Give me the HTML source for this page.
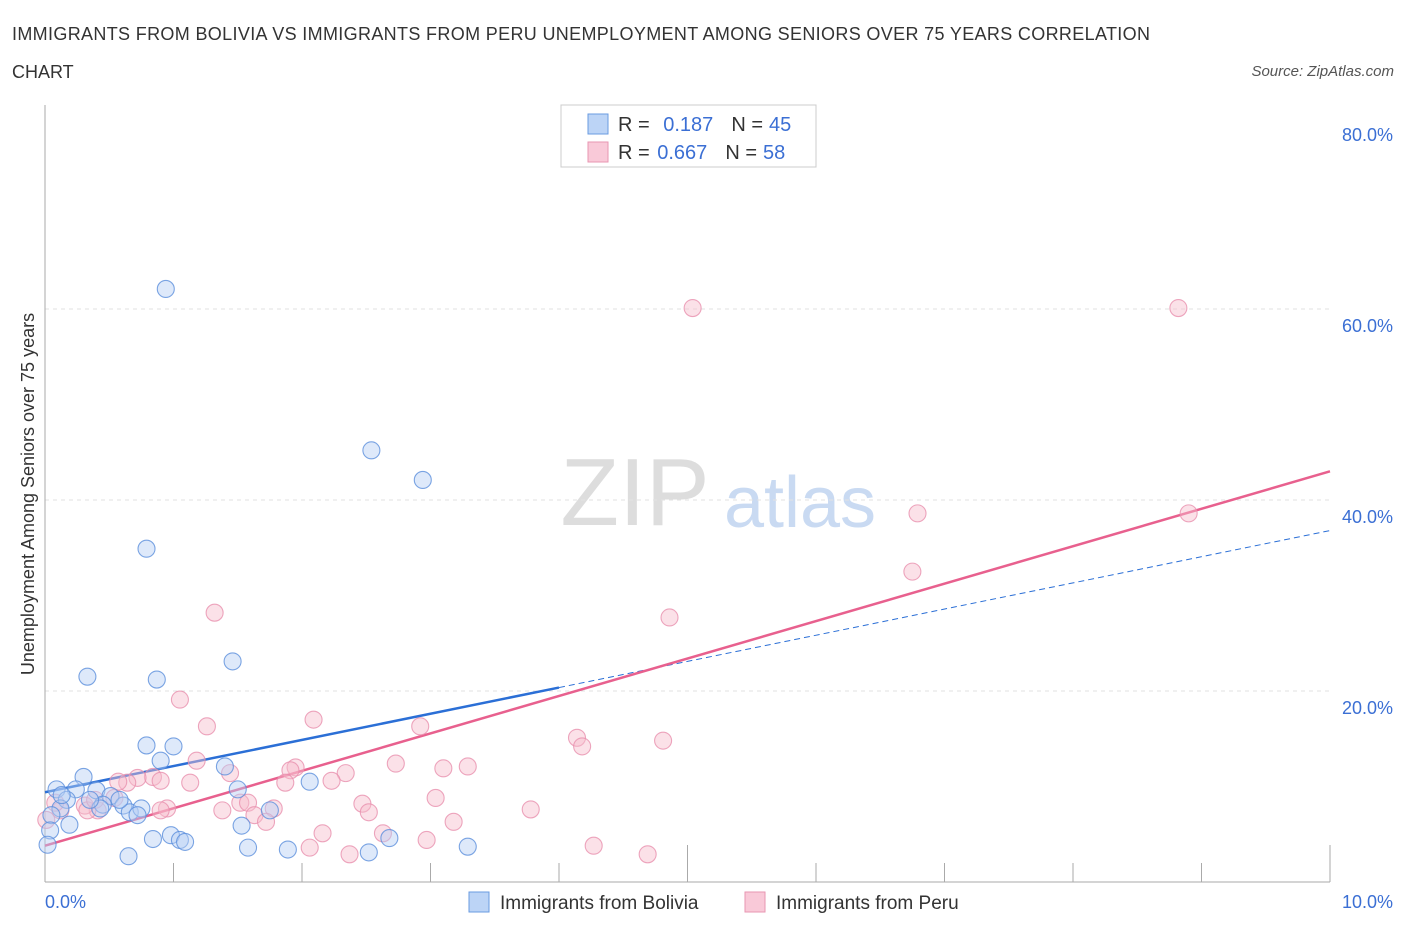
<!DOCTYPE html>
<html><head><meta charset="utf-8"><style>
body{margin:0;background:#fff;font-family:"Liberation Sans",sans-serif}
svg text{font-family:"Liberation Sans",sans-serif}
</style></head><body>
<svg id="chart" width="1406" height="930">
<text x="12" y="40" font-size="18" fill="#333" textLength="1138">IMMIGRANTS FROM BOLIVIA VS IMMIGRANTS FROM PERU UNEMPLOYMENT AMONG SENIORS OVER 75 YEARS CORRELATION</text>
<text x="12" y="78" font-size="18" fill="#333">CHART</text>
<text x="1394" y="76" font-size="15" fill="#555" font-style="italic" text-anchor="end">Source: ZipAtlas.com</text>
<text x="635" y="525" font-size="96" fill="#ddd" font-family="Liberation Serif" text-anchor="middle">ZIP</text>
<text x="800" y="527" font-size="72" fill="#c9daf2" text-anchor="middle">atlas</text>
<g id="grid"></g><g id="lines"></g><g id="pts"></g>
<text transform="translate(34,494) rotate(-90)" font-size="18" fill="#333" text-anchor="middle">Unemployment Among Seniors over 75 years</text>
<rect x="561" y="105" width="255" height="62" fill="#fff" stroke="#ccc"/>
<rect x="588" y="114" width="20" height="20" fill="#bcd4f6" stroke="#6a9be0"/>
<rect x="588" y="142" width="20" height="20" fill="#f9c9d8" stroke="#e896b2"/>
<text x="618" y="131" font-size="20" fill="#333">R = <tspan fill="#3b6fd4" dx="8">0.187</tspan><tspan dx="18" fill="#333">N =</tspan><tspan fill="#3b6fd4" dx="6">45</tspan></text>
<text x="618" y="159" font-size="20" fill="#333">R = <tspan fill="#3b6fd4" dx="2">0.667</tspan><tspan dx="18" fill="#333">N =</tspan><tspan fill="#3b6fd4" dx="6">58</tspan></text>
<rect x="469" y="892" width="20" height="20" fill="#bcd4f6" stroke="#6a9be0"/>
<text x="500" y="909" font-size="19" fill="#333">Immigrants from Bolivia</text>
<rect x="745" y="892" width="20" height="20" fill="#f9c9d8" stroke="#e896b2"/>
<text x="776" y="909" font-size="19" fill="#333">Immigrants from Peru</text>
</svg>
<script>
const yTicks=[20,40,60,80];
const yTickLabels=["20.0%","40.0%","60.0%","80.0%"];
const xTickLabels=["0.0%","10.0%"];
const boliviaX=[0.94,2.54,2.94,0.79,0.33,0.87,1.46,0.79,1.00,0.90,1.40,1.50,2.06,0.30,0.09,0.24,0.40,0.51,0.45,0.61,0.66,0.75,0.58,0.72,0.17,0.12,0.05,0.19,0.04,0.02,1.53,0.84,0.98,1.05,1.09,0.65,1.58,1.89,2.52,2.68,3.29,1.75,0.43,0.13,0.35];
const boliviaY=[62.1,45.2,42.1,34.9,21.5,21.2,23.1,14.3,14.2,12.7,12.1,9.7,10.5,11.0,9.7,9.7,9.6,9.0,8.1,8.0,7.3,7.7,8.6,7.0,8.6,7.7,7.0,6.0,5.4,3.9,5.9,4.5,4.9,4.4,4.2,2.7,3.6,3.4,3.1,4.6,3.7,7.5,7.7,9.1,8.6];
const peruX=[5.04,8.82,6.79,8.90,6.75,4.86,1.32,1.05,1.26,2.09,2.92,4.14,4.18,4.81,1.18,1.44,1.95,1.91,2.34,2.73,3.10,3.29,2.23,1.13,0.84,0.72,0.64,0.57,0.90,1.87,3.04,1.52,1.58,1.78,2.47,2.52,3.78,1.38,0.95,0.90,0.41,0.31,0.33,0.12,0.08,0.54,0.39,1.63,1.72,2.16,2.63,3.18,2.97,2.06,2.37,4.27,4.69,0.01];
const peruY=[60.1,60.1,38.6,38.6,32.5,27.7,28.2,19.1,16.3,17.0,16.3,15.1,14.2,14.8,12.7,11.4,12.0,11.7,11.4,12.4,11.9,12.1,10.6,10.4,11.0,10.9,10.4,10.5,10.6,10.4,8.8,8.3,8.3,7.7,8.2,7.3,7.6,7.5,7.7,7.5,7.5,8.0,7.5,7.5,8.3,8.8,8.6,7.0,6.3,5.1,5.1,6.3,4.4,3.6,2.9,3.8,2.9,6.5];
const boliviaTrend=[9.4,36.8]; const boliviaSolidEnd=4.0;
const peruTrend=[3.8,43.0];
const NS="http://www.w3.org/2000/svg";
const X=v=>45+v*128.5, Y=v=>882-v*9.55;
function mk(t,a,p){const e=document.createElementNS(NS,t);for(const k in a)e.setAttribute(k,a[k]);p.appendChild(e);return e;}
const g=document.getElementById('grid');
yTicks.forEach((t,i)=>{
 if(t<80){const l=mk('line',{x1:45,x2:1330,y1:Y(t),y2:Y(t),stroke:'#e2e2e2','stroke-dasharray':'4,4'},g);
 
 }
 const tx=mk('text',{x:1393,y:Y(t)+23,'font-size':18,fill:'#3b6fd4','text-anchor':'end'},g);
 tx.textContent=yTickLabels[i];
 
 
});
const ax=mk('line',{x1:45,x2:45,y1:105,y2:882,stroke:'#aaa'},g);


const bx=mk('line',{x1:45,x2:1330,y1:882,y2:882,stroke:'#aaa'},g);


for(let i=1;i<=10;i++){const tk=mk('line',{x1:X(i),x2:X(i),y1:i%5==0?845:863,y2:882,stroke:'#aaa'},g);
 
 }
[[0,'start',45],[10,'end',1393]].forEach((d,i)=>{const tx=mk('text',{x:d[2],y:908,'font-size':18,fill:'#3b6fd4','text-anchor':d[1]},g);
 tx.textContent=xTickLabels[i];
 
 });
const P=document.getElementById('pts');
function pts(xs,ys,fill,stroke,name){xs.forEach((x,i)=>{const c=mk('circle',{cx:X(x),cy:Y(ys[i]),r:8.5,fill:fill,'fill-opacity':0.45,stroke:stroke,'stroke-opacity':0.8,'stroke-width':1.1},P);
 
 });}
pts(peruX,peruY,'#f7bccd','#e890ae','peru-point');
pts(boliviaX,boliviaY,'#b5cff3','#5b8fdc','bolivia-point');
const L=document.getElementById('lines');
const by=x=>boliviaTrend[0]+(boliviaTrend[1]-boliviaTrend[0])*x/10;
const py=x=>peruTrend[0]+(peruTrend[1]-peruTrend[0])*x/10;
const l1=mk('line',{x1:X(0),y1:Y(by(0)),x2:X(boliviaSolidEnd),y2:Y(by(boliviaSolidEnd)),stroke:'#2b6fd6','stroke-width':2.5},L);


const l2=mk('line',{x1:X(boliviaSolidEnd),y1:Y(by(boliviaSolidEnd)),x2:X(10),y2:Y(by(10)),stroke:'#2b6fd6','stroke-width':1,'stroke-dasharray':'6,4'},L);


const l3=mk('line',{x1:X(0),y1:Y(py(0)),x2:X(10),y2:Y(py(10)),stroke:'#e8608e','stroke-width':2.5},L);


</script>
</body></html>
